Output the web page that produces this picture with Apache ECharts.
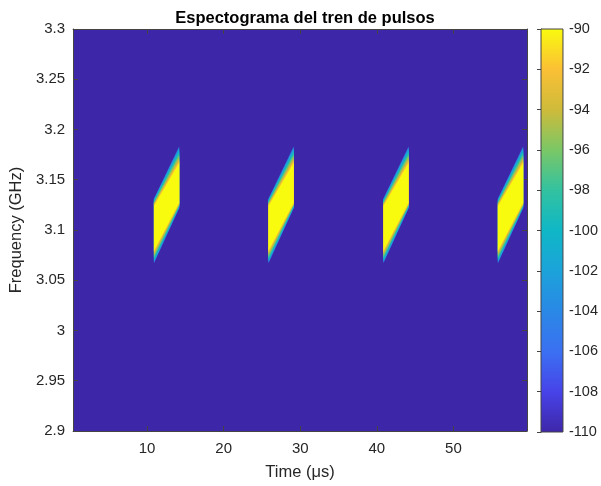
<!DOCTYPE html>
<html lang="es">
<head>
    <meta charset="UTF-8">
    <title>Espectograma del tren de pulsos</title>
    <script src="https://cdn.jsdelivr.net/npm/echarts@6/dist/echarts.min.js"></script>
</head>
<style>
    html, body {
        margin: 0;
        height: 100%;
        background: #fff;
    }
</style>
<body>
<div id="main" style="width: 601px;height:486px"></div>
<script type="text/javascript">
    // tick labels
    var timeTicks = [10, 20, 30, 40, 50];
    var freqTicks = [2.9, 2.95, 3, 3.05, 3.1, 3.15, 3.2, 3.25, 3.3];

    // pulses (us)
    var pulseStart = [10.9, 25.85, 40.85, 55.8];
    var pulseEnd = [14.2, 29.15, 44.15, 59.1];
    // chirp band edges (GHz) at start / end of each pulse
    var freqLowStart = 3.067, freqHighStart = 3.131;
    var freqLowEnd = 3.122, freqHighEnd = 3.183;

    // contour levels (dB) and how far (GHz) each sits inside the band edge,
    // at the pulse start (left) and end (right), upper and lower edge
    var levelValues = [-104, -102.5, -101, -99.5, -98, -96.5, -95, -93.5, -92, -90];
    var topInsetLeft = [0, 0.0007, 0.0014, 0.0021, 0.0028, 0.0035, 0.0043, 0.0053, 0.0062, 0.007];
    var topInsetRight = [0, 0.0016, 0.0032, 0.0048, 0.0064, 0.008, 0.0099, 0.012, 0.0141, 0.016];
    var lowInsetLeft = [0, 0.0012, 0.0024, 0.0036, 0.0048, 0.006, 0.0074, 0.009, 0.0106, 0.012];
    var lowInsetRight = [0, 0.0005, 0.001, 0.0015, 0.002, 0.0025, 0.0031, 0.0038, 0.0044, 0.005];

    // parula, from -110 up to -90
    var parula = ['#3e26a8', '#4743e8', '#3b70f2', '#2a88e6', '#1ca3da', '#0fb7c6',
        '#33c2a0', '#7bc766', '#cfbb3a', '#fbc035', '#f9fb0e'];

    var pulseData = [];
    for (var p = 0; p < pulseStart.length; p++) {
        for (var k = 0; k < levelValues.length; k++) {
            pulseData.push([p, k, levelValues[k]]);
        }
    }

    var txt = '#262626';
    var axisLine = {show: true, lineStyle: {color: '#444', width: 1}};
    var tick = function (vals) {
        return {show: true, inside: true, length: 5, customValues: vals, lineStyle: {color: '#444'}};
    };

    var myChart = echarts.init(document.getElementById('main'));
    var option = {
        animation: false,
        backgroundColor: '#fff',
        textStyle: {fontFamily: 'Liberation Sans'},
        title: {
            text: 'Espectograma del tren de pulsos',
            left: 300, top: 5, textAlign: 'center',
            textStyle: {fontSize: 16.5, fontWeight: 'bold', color: '#000', fontFamily: 'Liberation Sans'}
        },
        grid: [
            {left: 72, top: 29, width: 455, height: 402, show: true, backgroundColor: parula[0], borderWidth: 0},
            {left: 541, top: 29, width: 24, height: 403}
        ],
        visualMap: {
            show: false, seriesIndex: 0, dimension: 2,
            min: -110, max: -90, inRange: {color: parula}
        },
        xAxis: [
            {
                type: 'value', gridIndex: 0, min: 0.35, max: 59.6, position: 'bottom',
                name: 'Time (μs)', nameLocation: 'middle', nameGap: 33,
                nameTextStyle: {fontSize: 16.5, color: txt},
                axisLine: axisLine, axisTick: tick(timeTicks), splitLine: {show: false},
                axisLabel: {customValues: timeTicks, fontSize: 15, color: txt, margin: 10}
            },
            {
                type: 'value', gridIndex: 0, min: 0.35, max: 59.6, position: 'top',
                axisLine: axisLine, axisTick: tick(timeTicks), splitLine: {show: false},
                axisLabel: {show: false}
            },
            {type: 'value', gridIndex: 1, min: 0, max: 1, show: false}
        ],
        yAxis: [
            {
                type: 'value', gridIndex: 0, min: 2.9, max: 3.3, position: 'left',
                name: 'Frequency (GHz)', nameLocation: 'middle', nameGap: 38,
                nameTextStyle: {fontSize: 16.5, color: txt},
                axisLine: axisLine, axisTick: tick(freqTicks), splitLine: {show: false},
                axisLabel: {customValues: freqTicks, fontSize: 15, color: txt, margin: 8,
                    formatter: function (v) { return String(+v.toFixed(2)); }}
            },
            {
                type: 'value', gridIndex: 0, min: 2.9, max: 3.3, position: 'right',
                axisLine: axisLine, axisTick: tick(freqTicks), splitLine: {show: false},
                axisLabel: {show: false}
            },
            {
                type: 'value', gridIndex: 1, min: -110, max: -90, interval: 2, position: 'right',
                axisLine: axisLine, splitLine: {show: false},
                axisTick: {show: true, inside: true, length: 4, lineStyle: {color: '#444'}},
                axisLabel: {fontSize: 14.5, color: txt, margin: 6}
            }
        ],
        series: [
            {
                type: 'custom', xAxisIndex: 0, yAxisIndex: 0, clip: true,
                data: pulseData,
                renderItem: function (params, api) {
                    var p = api.value(0), k = api.value(1);
                    var pts = [
                        [pulseStart[p], freqLowStart + lowInsetLeft[k]],
                        [pulseStart[p], freqHighStart - topInsetLeft[k]],
                        [pulseEnd[p], freqHighEnd - topInsetRight[k]],
                        [pulseEnd[p], freqLowEnd + lowInsetRight[k]]
                    ].map(function (c) { return api.coord(c); });
                    return {type: 'polygon', shape: {points: pts}, style: {fill: api.visual('color')}};
                }
            },
            {
                // colorbar
                type: 'custom', xAxisIndex: 2, yAxisIndex: 2, silent: true,
                data: [[0, -110]],
                renderItem: function (params, api) {
                    var a = api.coord([0, -90]), b = api.coord([1, -110]);
                    var stops = parula.map(function (c, i) {
                        return {offset: 1 - i / (parula.length - 1), color: c};
                    });
                    return {
                        type: 'rect',
                        shape: {x: a[0], y: a[1], width: b[0] - a[0], height: b[1] - a[1]},
                        style: {
                            fill: {type: 'linear', x: 0, y: 0, x2: 0, y2: 1, colorStops: stops.reverse()},
                            stroke: '#444', lineWidth: 1
                        }
                    };
                }
            }
        ]
    };
    myChart.setOption(option);
</script>
</body>
</html>
